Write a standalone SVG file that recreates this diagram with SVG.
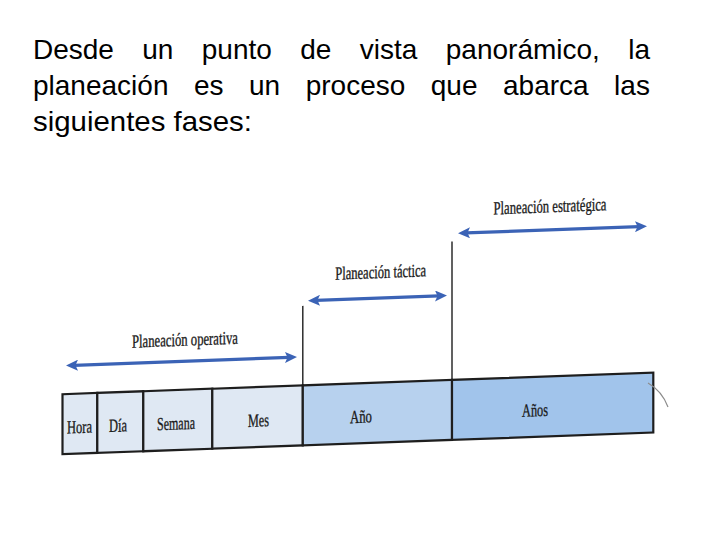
<svg xmlns="http://www.w3.org/2000/svg" width="720" height="540" viewBox="0 0 720 540">
  <style>
    .intro { font-family: "Liberation Sans", Arial, sans-serif; font-size: 28px; fill: #000; }
    .lbl { font-family: "Liberation Serif", "Times New Roman", serif; font-size: 18.5px; fill: #1a1a1a; stroke: #1a1a1a; stroke-width: 0.35; text-anchor: middle; }
    .cell { stroke: #1e1e1e; stroke-width: 2.2; }
    .light { fill: #dfe8f3; }
    .mid { fill: #b7d1ee; }
    .dark { fill: #a1c4eb; }
    .arrow { stroke: #3b63b6; stroke-width: 3.2; fill: none; marker-start: url(#ah); marker-end: url(#ah); }
    .vline { stroke: #1e1e1e; stroke-width: 1.4; }
  </style>
  <defs>
    <marker id="ah" viewBox="0 0 12 11" refX="4" refY="5.5" markerWidth="12" markerHeight="11" markerUnits="userSpaceOnUse" orient="auto-start-reverse">
      <path d="M0,0 L12,5.5 L0,11 L2.5,5.5 z" fill="#3b63b6"/>
    </marker>
  </defs>
  <rect width="720" height="540" fill="#ffffff"/>

  <g id="intro-text">
    <text class="intro" y="59"><tspan x="33">Desde</tspan><tspan x="142.3">un</tspan><tspan x="201.8">punto</tspan><tspan x="300.3">de</tspan><tspan x="359.8">vista</tspan><tspan x="445.8">panorámico,</tspan><tspan x="628.3">la</tspan></text>
    <text class="intro" y="95"><tspan x="33">planeación</tspan><tspan x="193.9">es</tspan><tspan x="249">un</tspan><tspan x="305.7">proceso</tspan><tspan x="430.8">que</tspan><tspan x="503">abarca</tspan><tspan x="614.1">las</tspan></text>
    <text class="intro" x="33" y="131" textLength="219" lengthAdjust="spacingAndGlyphs">siguientes fases:</text>
  </g>

  <g id="diagram" transform="skewY(-2.1)">
    <g id="connectors">
      <line class="vline" x1="302.8" y1="317" x2="302.8" y2="456.5"/>
      <line class="vline" x1="452" y1="258" x2="452" y2="456.5"/>
      <line class="arrow" x1="74" y1="368" x2="289" y2="368"/>
      <line class="arrow" x1="316" y1="312" x2="439" y2="312"/>
      <line class="arrow" x1="466" y1="250" x2="639" y2="250"/>
    </g>

    <g id="cell-hora">
      <rect class="cell light" x="62.5" y="396.5" width="34.8" height="60"/>
      <text class="lbl" x="79.5" y="436" textLength="25" lengthAdjust="spacingAndGlyphs">Hora</text>
    </g>
    <g id="cell-dia">
      <rect class="cell light" x="97.3" y="396.5" width="46" height="60"/>
      <text class="lbl" x="118" y="436" textLength="18" lengthAdjust="spacingAndGlyphs">Día</text>
    </g>
    <g id="cell-semana">
      <rect class="cell light" x="143.3" y="396.5" width="69" height="60"/>
      <text class="lbl" x="176" y="436" textLength="38" lengthAdjust="spacingAndGlyphs">Semana</text>
    </g>
    <g id="cell-mes">
      <rect class="cell light" x="212.3" y="396.5" width="90.5" height="60"/>
      <text class="lbl" x="258.5" y="436" textLength="21" lengthAdjust="spacingAndGlyphs">Mes</text>
    </g>
    <g id="cell-ano">
      <rect class="cell mid" x="302.8" y="396.5" width="149.2" height="60"/>
      <text class="lbl" x="361" y="436" textLength="22" lengthAdjust="spacingAndGlyphs">Año</text>
    </g>
    <g id="cell-anos">
      <rect class="cell dark" x="452" y="396.5" width="201.3" height="60"/>
      <text class="lbl" x="535" y="436" textLength="26" lengthAdjust="spacingAndGlyphs">Años</text>
    </g>

    <g id="phase-operativa">
      <text class="lbl" x="185" y="352.5" textLength="106" lengthAdjust="spacingAndGlyphs">Planeación operativa</text>
    </g>
    <g id="phase-tactica">
      <text class="lbl" x="380.7" y="292" textLength="91" lengthAdjust="spacingAndGlyphs">Planeación táctica</text>
    </g>
    <g id="phase-estrategica">
      <text class="lbl" x="550" y="232.5" textLength="113" lengthAdjust="spacingAndGlyphs">Planeación estratégica</text>
    </g>
  </g>

  <path d="M648,383 Q662,391 668,407" fill="none" stroke="#8c8c8c" stroke-width="1.2"/>
</svg>
